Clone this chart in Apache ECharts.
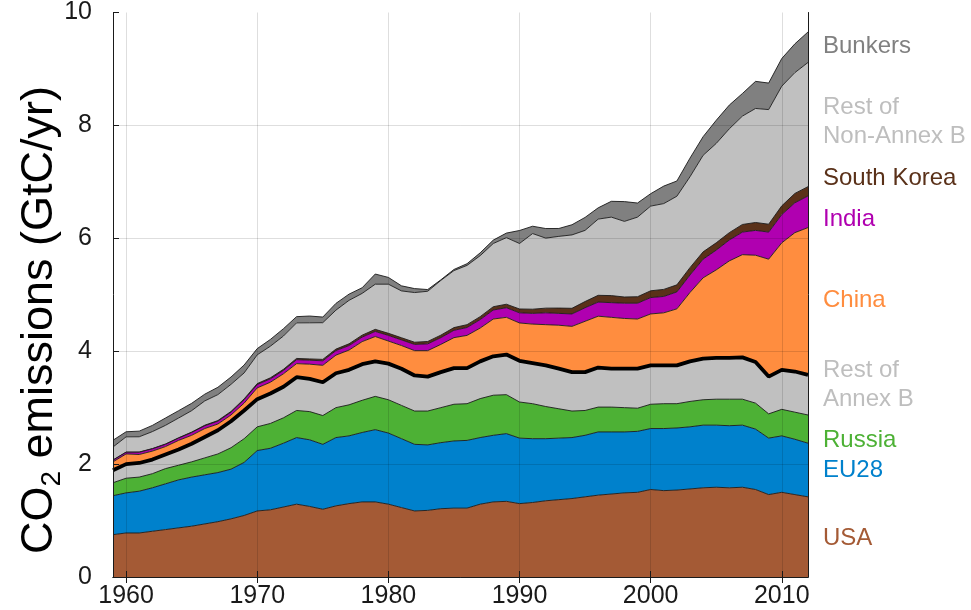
<!DOCTYPE html>
<html><head><meta charset="utf-8">
<script src="https://cdn.jsdelivr.net/npm/echarts@6/dist/echarts.min.js"></script>
<style>html,body{margin:0;padding:0;background:#fff}#c{width:971px;height:610px}</style>
</head><body><div id="c"></div>
<script>
const years = [1959,1960,1961,1962,1963,1964,1965,1966,1967,1968,
  1969,1970,1971,1972,1973,1974,1975,1976,1977,1978,
  1979,1980,1981,1982,1983,1984,1985,1986,1987,1988,
  1989,1990,1991,1992,1993,1994,1995,1996,1997,1998,
  1999,2000,2001,2002,2003,2004,2005,2006,2007,2008,
  2009,2010,2011,2012];
const xTicks = [1960,1970,1980,1990,2000,2010];
const yTicks = [0,2,4,6,8,10];
const seriesNames = ['USA','EU28','Russia','Rest of Annex B','China','India','South Korea','Rest of Non-Annex B','Bunkers'];

const usa = [0.75,0.78,0.78,0.81,0.84,0.87,0.90,0.94,0.98,1.03,
  1.09,1.17,1.19,1.24,1.29,1.25,1.20,1.26,1.30,1.33,
  1.33,1.29,1.23,1.17,1.18,1.21,1.22,1.22,1.29,1.33,
  1.34,1.30,1.32,1.35,1.37,1.39,1.42,1.45,1.47,1.49,
  1.50,1.55,1.53,1.54,1.56,1.58,1.59,1.58,1.59,1.55,
  1.46,1.50,1.46,1.42];
const eu28 = [0.69,0.71,0.74,0.77,0.81,0.85,0.87,0.87,0.87,0.88,
  0.94,1.07,1.09,1.13,1.18,1.18,1.15,1.21,1.20,1.23,
  1.28,1.26,1.22,1.18,1.16,1.17,1.19,1.20,1.18,1.18,
  1.20,1.16,1.13,1.10,1.09,1.08,1.09,1.12,1.10,1.08,
  1.08,1.08,1.10,1.10,1.10,1.11,1.10,1.10,1.10,1.07,
  1.00,1.00,0.98,0.95];
const russia = [0.23,0.26,0.25,0.25,0.27,0.26,0.27,0.30,0.33,0.38,
  0.42,0.42,0.44,0.45,0.48,0.50,0.51,0.53,0.55,0.57,
  0.59,0.59,0.59,0.59,0.60,0.62,0.65,0.65,0.69,0.71,
  0.69,0.64,0.62,0.57,0.52,0.47,0.44,0.44,0.44,0.43,
  0.41,0.43,0.44,0.43,0.45,0.45,0.46,0.47,0.46,0.46,
  0.43,0.47,0.48,0.50];
const restAnnexB = [0.22,0.25,0.25,0.25,0.25,0.28,0.32,0.37,0.42,0.47,
  0.50,0.49,0.53,0.55,0.59,0.58,0.59,0.61,0.62,0.64,
  0.62,0.64,0.65,0.63,0.61,0.63,0.64,0.63,0.66,0.69,
  0.71,0.73,0.72,0.73,0.71,0.69,0.68,0.70,0.68,0.69,
  0.70,0.69,0.68,0.68,0.71,0.73,0.73,0.73,0.74,0.73,
  0.66,0.70,0.72,0.71];
const china = [0.15,0.18,0.15,0.15,0.14,0.16,0.15,0.15,0.11,0.11,
  0.13,0.20,0.20,0.23,0.24,0.26,0.30,0.32,0.35,0.40,
  0.44,0.40,0.41,0.44,0.46,0.49,0.54,0.58,0.59,0.66,
  0.66,0.67,0.69,0.72,0.77,0.81,0.90,0.91,0.91,0.89,
  0.88,0.91,0.93,1.00,1.22,1.43,1.56,1.72,1.82,1.89,
  2.08,2.25,2.46,2.61];
const india = [0.03,0.03,0.04,0.04,0.04,0.04,0.05,0.05,0.05,0.05,
  0.06,0.06,0.06,0.06,0.07,0.07,0.08,0.08,0.08,0.08,
  0.09,0.10,0.10,0.11,0.12,0.12,0.13,0.14,0.15,0.16,
  0.17,0.18,0.19,0.21,0.21,0.22,0.24,0.25,0.26,0.27,
  0.28,0.29,0.29,0.30,0.31,0.33,0.35,0.37,0.40,0.44,
  0.48,0.50,0.53,0.56];
const southKorea = [0.003,0.003,0.004,0.005,0.006,0.006,0.007,0.009,0.011,0.013,
  0.015,0.016,0.018,0.019,0.022,0.023,0.025,0.027,0.031,0.034,
  0.037,0.037,0.038,0.039,0.042,0.044,0.048,0.050,0.052,0.058,
  0.062,0.068,0.074,0.083,0.094,0.100,0.110,0.120,0.125,0.110,
  0.115,0.120,0.125,0.125,0.130,0.130,0.130,0.130,0.135,0.140,
  0.140,0.155,0.165,0.165];
const restNonAnnexB = [0.23,0.27,0.27,0.30,0.33,0.35,0.38,0.43,0.46,0.48,
  0.46,0.51,0.56,0.59,0.63,0.64,0.65,0.69,0.77,0.74,
  0.80,0.87,0.83,0.88,0.89,0.97,1.01,1.05,1.08,1.12,
  1.18,1.16,1.34,1.24,1.27,1.30,1.26,1.35,1.39,1.34,
  1.41,1.50,1.52,1.57,1.61,1.71,1.76,1.84,1.92,2.02,
  2.03,2.12,2.14,2.20];
const bunkers = [0.12,0.09,0.10,0.11,0.13,0.13,0.13,0.12,0.13,0.13,
  0.14,0.11,0.12,0.13,0.11,0.12,0.10,0.12,0.11,0.10,
  0.18,0.12,0.09,0.07,0.03,0.01,0.02,0.03,0.05,0.06,
  0.08,0.23,0.13,0.17,0.14,0.18,0.23,0.20,0.28,0.35,
  0.25,0.22,0.31,0.27,0.33,0.33,0.41,0.42,0.40,0.48,
  0.47,0.49,0.51,0.54];

const layers = [usa, eu28, russia, restAnnexB, china, india, southKorea, restNonAnnexB, bunkers];
const fills = ['#A45A35','#0081CC','#4DB135','#C0C0C0','#FF8D3F','#B000B0','#5A3119','#C0C0C0','#808080'];

const FONT = '"Liberation Sans", Arial, Helvetica, sans-serif';
const ink = '#1a1a1a';
const cats = years.map(String);
const isTick = (idx, val) => xTicks.indexOf(Number(val)) >= 0;

const rightLabels = [
  {t:'Bunkers', c:'#808080', y:46},
  {t:'Rest of\nNon-Annex B', c:'#BEBEBE', y:122},
  {t:'South Korea', c:'#5A3119', y:178},
  {t:'India', c:'#B000B0', y:219},
  {t:'China', c:'#FF8D3F', y:300},
  {t:'Rest of\nAnnex B', c:'#BEBEBE', y:385},
  {t:'Russia', c:'#4DB135', y:440},
  {t:'EU28', c:'#0081CC', y:470},
  {t:'USA', c:'#A45A35', y:538}
];

const series = layers.map((vals, i) => ({
  name: seriesNames[i],
  type: 'line',
  stack: 'total',
  symbol: 'none',
  showSymbol: false,
  z: 20 - i,
  data: vals,
  lineStyle: { color: i === 3 ? '#000' : ink, width: i === 3 ? 3.8 : 0.9 },
  areaStyle: { color: fills[i], opacity: 1 },
  emphasis: { disabled: true },
  silent: true
}));

series[0].markLine = {
  silent: true,
  symbol: 'none',
  z: 30,
  label: { show: false },
  lineStyle: { color: 'rgba(0,0,0,0.13)', width: 1, type: 'solid' },
  data: yTicks.filter(v => v > 0 && v < 10).map(v => ({ yAxis: v }))
    .concat(xTicks.map(v => ({ xAxis: String(v) })))
};

const chart = echarts.init(document.getElementById('c'), null, { renderer: 'canvas' });
chart.setOption({
  animation: false,
  backgroundColor: '#fff',
  grid: { left: 113, right: 163, top: 12, bottom: 33, containLabel: false },
  xAxis: [{
    type: 'category', data: cats, boundaryGap: false, position: 'bottom', z: 40,
    axisLine: { show: true, lineStyle: { color: ink, width: 1 } },
    axisTick: { show: true, inside: true, length: 6, interval: isTick, lineStyle: { color: ink } },
    axisLabel: { interval: isTick, fontSize: 25, color: ink, margin: 7, fontFamily: FONT },
    splitLine: { show: false }
  }, {
    type: 'category', data: cats, boundaryGap: false, position: 'top', z: 40,
    axisLine: { show: true, lineStyle: { color: ink, width: 1 } },
    axisTick: { show: true, inside: true, length: 6, interval: isTick, lineStyle: { color: ink } },
    axisLabel: { show: false },
    splitLine: { show: false }
  }],
  yAxis: [{
    type: 'value', min: 0, max: 10, interval: 2, position: 'left', z: 40,
    axisLine: { show: true, lineStyle: { color: ink, width: 1 } },
    axisTick: { show: true, inside: true, length: 6, lineStyle: { color: ink } },
    axisLabel: { fontSize: 25, color: ink, margin: 21, fontFamily: FONT },
    splitLine: { show: false }
  }, {
    type: 'value', min: 0, max: 10, interval: 2, position: 'right', z: 40,
    axisLine: { show: true, lineStyle: { color: ink, width: 1 } },
    axisTick: { show: false },
    axisLabel: { show: false },
    splitLine: { show: false }
  }],
  series: series,
  graphic: rightLabels.map(l => ({
    type: 'text',
    x: 823,
    y: l.y,
    silent: true,
    style: { text: l.t, fill: l.c, font: '24px ' + FONT, verticalAlign: 'middle', lineHeight: 29 }
  })).concat([{
    type: 'text',
    x: 40,
    y: 320,
    rotation: Math.PI / 2,
    silent: true,
    style: {
      text: '{a|CO}{b|2}{a| emissions (GtC/yr)}',
      align: 'center',
      verticalAlign: 'middle',
      rich: {
        a: { fontSize: 45, fontFamily: FONT, fill: '#000', lineHeight: 52 },
        b: { fontSize: 28, fontFamily: FONT, fill: '#000', verticalAlign: 'bottom', lineHeight: 52 }
      }
    }
  }])
});
</script>
</body></html>
